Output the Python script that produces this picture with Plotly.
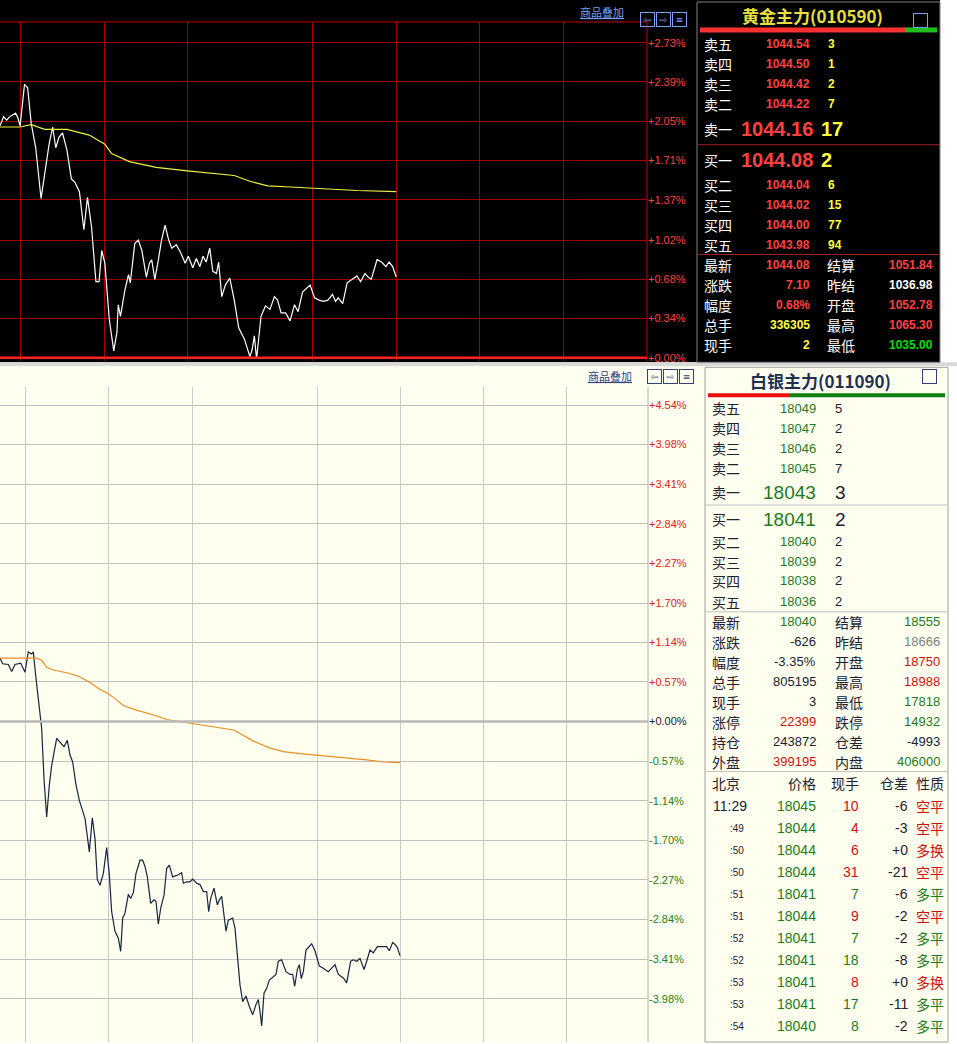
import plotly.graph_objs as go

W, H = 957, 1044

# ---- gold (top) : minute slot, percent vs prev settle ----
gold_t = [0, 8, 15, 22, 35, 40, 45, 55, 62, 70, 80, 92, 100, 110, 118, 125, 132, 140, 150, 160,
          168, 178, 188, 196, 205, 215, 222, 228, 235, 245, 255, 262, 265, 270, 280, 288, 292, 302,
          310, 318, 328, 335, 340, 347, 355, 362, 370, 378, 385, 395, 405, 415, 422, 432, 440, 448,
          455, 462, 470, 477, 485, 490, 497, 505, 515, 525, 535, 548, 560, 565, 570, 575, 585, 595,
          605, 615, 622, 630, 640, 650, 660, 668, 678, 695, 705, 715, 725, 735, 745, 752, 758, 768,
          778, 790, 800, 808, 818, 825, 832, 845, 855, 865, 872, 880, 888]
gold_pct = [2.01, 2.09, 2.06, 2.09, 2.12, 2.08, 2.01, 2.37, 2.34, 2.03, 1.82, 1.38, 1.59, 1.85, 2.00,
            1.82, 1.91, 1.95, 1.80, 1.55, 1.52, 1.44, 1.11, 1.39, 1.14, 0.66, 0.66, 0.93, 0.82, 0.33,
            0.06, 0.22, 0.46, 0.36, 0.59, 0.72, 0.65, 0.99, 1.02, 0.93, 0.70, 0.82, 0.85, 0.68, 0.85,
            1.02, 1.15, 1.02, 0.95, 0.98, 0.91, 0.82, 0.88, 0.78, 0.86, 0.79, 0.88, 0.83, 0.95, 0.75,
            0.73, 0.83, 0.53, 0.63, 0.69, 0.50, 0.26, 0.16, 0.01, 0.07, 0.19, -0.01, 0.36, 0.45, 0.42,
            0.53, 0.50, 0.39, 0.39, 0.32, 0.46, 0.40, 0.57, 0.63, 0.52, 0.50, 0.49, 0.50, 0.55, 0.49,
            0.52, 0.47, 0.65, 0.68, 0.71, 0.66, 0.73, 0.70, 0.68, 0.85, 0.83, 0.79, 0.83, 0.79, 0.70]
gold_avg_t = [0, 45, 70, 100, 150, 200, 235, 250, 290, 350, 420, 500, 525, 560, 600, 650, 700, 750, 800, 888]
gold_avg = [2.00, 2.00, 2.02, 1.98, 1.98, 1.93, 1.85, 1.77, 1.70, 1.65, 1.62, 1.59, 1.58, 1.53, 1.49,
            1.48, 1.47, 1.46, 1.45, 1.44]
gold_ticks = [2.73, 2.39, 2.05, 1.71, 1.37, 1.02, 0.68, 0.34, 0.00]
gold_grid_t = [47, 234, 420, 700, 888, 1075, 1262]

# ---- silver (bottom) ----
silver_t = [0, 8, 25, 35, 45, 62, 75, 85, 95, 100, 108, 118, 125, 132, 140, 148, 155, 170, 180, 192,
            202, 210, 218, 228, 238, 248, 255, 268, 277, 285, 292, 300, 310, 320, 328, 335, 345, 355,
            362, 368, 375, 385, 392, 400, 408, 420, 428, 435, 442, 452, 462, 468, 475, 482, 492, 500,
            508, 518, 535, 545, 550, 560, 570, 578, 590, 600, 610, 620, 626, 632, 642, 652, 658, 665,
            672, 678, 685, 698, 705, 712, 720, 728, 738, 748, 758, 768, 775, 780, 785, 792, 800, 808,
            818, 828, 835, 845, 858, 870, 878, 884, 892, 898, 904, 910, 918, 935, 945, 958, 970, 985,
            995, 1005, 1015, 1030, 1040, 1052, 1060, 1070, 1080, 1092, 1100, 1110, 1120, 1132, 1145,
            1160, 1168, 1178, 1185, 1192, 1200]
silver_pct = [0.91, 0.83, 0.82, 0.72, 0.82, 0.84, 0.71, 1.00, 0.97, 1.00, 0.62, 0.23, -0.10, -0.82,
              -1.37, -0.91, -0.63, -0.24, -0.29, -0.36, -0.27, -0.48, -0.58, -0.91, -1.13, -1.29,
              -1.39, -1.87, -1.38, -1.68, -2.27, -2.35, -2.18, -1.81, -2.20, -2.73, -3.01, -3.11,
              -3.30, -2.82, -2.75, -2.48, -2.54, -2.46, -2.18, -1.99, -1.99, -2.08, -2.23, -2.61,
              -2.56, -2.58, -2.91, -2.68, -2.49, -2.11, -2.06, -2.23, -2.20, -2.17, -2.32, -2.30,
              -2.30, -2.26, -2.32, -2.34, -2.44, -2.44, -2.73, -2.54, -2.39, -2.63, -2.56, -2.51,
              -2.80, -3.01, -2.85, -2.82, -2.97, -3.40, -3.78, -4.02, -3.94, -4.09, -4.21, -4.06,
              -3.99, -4.16, -4.37, -3.90, -3.83, -3.71, -3.67, -3.63, -3.44, -3.42, -3.59, -3.63,
              -3.63, -3.80, -3.56, -3.49, -3.69, -3.59, -3.28, -3.19, -3.29, -3.51, -3.54, -3.59,
              -3.54, -3.49, -3.63, -3.68, -3.75, -3.44, -3.42, -3.44, -3.40, -3.56, -3.44, -3.28,
              -3.32, -3.23, -3.23, -3.23, -3.29, -3.17, -3.20, -3.24, -3.36]
silver_avg_t = [0, 110, 125, 140, 160, 210, 240, 270, 300, 325, 345, 370, 400, 430, 470, 500, 540, 580,
                640, 700, 720, 760, 810, 850, 900, 950, 1000, 1050, 1100, 1150, 1200]
silver_avg = [0.91, 0.91, 0.88, 0.78, 0.74, 0.69, 0.64, 0.56, 0.46, 0.40, 0.33, 0.23, 0.18, 0.14, 0.08,
              0.03, 0.00, -0.03, -0.08, -0.12, -0.17, -0.28, -0.38, -0.43, -0.46, -0.48, -0.51, -0.53,
              -0.55, -0.58, -0.59]
silver_ticks = [4.54, 3.98, 3.41, 2.84, 2.27, 1.70, 1.14, 0.57, 0.00, -0.57, -1.14, -1.70, -2.27,
                -2.84, -3.41, -3.98]
silver_grid_t = [77, 325, 578, 953, 1200, 1450, 1700]

# ---- quote panels ----
gold_sell = [("卖五", "1044.54", "3"), ("卖四", "1044.50", "1"), ("卖三", "1044.42", "2"), ("卖二", "1044.22", "7")]
gold_buy = [("买二", "1044.04", "6"), ("买三", "1044.02", "15"), ("买四", "1044.00", "77"), ("买五", "1043.98", "94")]
gold_stats = [("最新", "1044.08", "结算", "1051.84"), ("涨跌", "7.10", "昨结", "1036.98"),
              ("幅度", "0.68%", "开盘", "1052.78"), ("总手", "336305", "最高", "1065.30"),
              ("现手", "2", "最低", "1035.00")]
gold_stat_colors = [("#ff4040", "#ff4040"), ("#ff4040", "#ffffff"), ("#ff4040", "#ff4040"),
                    ("#ffff40", "#ff4040"), ("#ffff40", "#00e000")]

silver_sell = [("卖五", "18049", "5"), ("卖四", "18047", "2"), ("卖三", "18046", "2"), ("卖二", "18045", "7")]
silver_buy = [("买二", "18040", "2"), ("买三", "18039", "2"), ("买四", "18038", "2"), ("买五", "18036", "2")]
silver_stats = [("最新", "18040", "结算", "18555"), ("涨跌", "-626", "昨结", "18666"),
                ("幅度", "-3.35%", "开盘", "18750"), ("总手", "805195", "最高", "18988"),
                ("现手", "3", "最低", "17818"), ("涨停", "22399", "跌停", "14932"),
                ("持仓", "243872", "仓差", "-4993"), ("外盘", "399195", "内盘", "406000")]
G, R, D, GR = "#1e7a1e", "#d01010", "#202030", "#808080"
silver_stat_colors = [(G, G), (D, GR), (D, R), (D, R), (D, G), (R, G), (D, D), (R, G)]

ticks_time = ["11:29", ":49", ":50", ":50", ":51", ":51", ":52", ":52", ":53", ":53", ":54"]
ticks_price = ["18045", "18044", "18044", "18044", "18041", "18044", "18041", "18041", "18041", "18041", "18040"]
ticks_vol = [10, 4, 6, 31, 7, 9, 7, 18, 8, 17, 8]
ticks_oi = ["-6", "-3", "+0", "-21", "-6", "-2", "-2", "-8", "+0", "-11", "-2"]
ticks_kind = ["空平", "空平", "多换", "空平", "多平", "空平", "多平", "多平", "多换", "多平", "多平"]

CJK = "Noto Sans CJK SC"
NUM = "Liberation Sans"

def px(x):
    return x / W

def py(y):
    return 1 - y / H

ann = []

def txt(x, y, s, color, size=13, anchor="left", family=CJK, bold=False):
    if bold:
        s = "<b>%s</b>" % s
    ann.append(dict(x=px(x), y=py(y), xref="paper", yref="paper", text=s, showarrow=False,
                    xanchor=anchor, yanchor="middle", font=dict(color=color, size=size, family=family)))

def icon(x, y, s, color):
    ann.append(dict(x=px(x), y=py(y), xref="paper", yref="paper", text=s, showarrow=False,
                    font=dict(color=color, size=9, family="DejaVu Sans"), bordercolor=color,
                    borderwidth=1, borderpad=0, width=13, height=13))

shapes = []

def rect(x0, y0, x1, y1, fill=None, line=None, width=1):
    shapes.append(dict(type="rect", xref="paper", yref="paper", x0=px(x0), x1=px(x1), y0=py(y1), y1=py(y0),
                       fillcolor=fill or "rgba(0,0,0,0)", line=dict(color=line or "rgba(0,0,0,0)", width=width),
                       layer="below"))

def hline(x0, x1, y, color, width=1):
    shapes.append(dict(type="line", xref="paper", yref="paper", x0=px(x0), x1=px(x1), y0=py(y), y1=py(y),
                       line=dict(color=color, width=width), layer="below"))

def vline(x, y0, y1, color, width=1):
    shapes.append(dict(type="line", xref="paper", yref="paper", x0=px(x), x1=px(x), y0=py(y1), y1=py(y0),
                       line=dict(color=color, width=width), layer="below"))

# backgrounds
rect(0, 0, 940, 363, fill="#000000")
rect(0, 363, 957, 367, fill="#d8d8d8")
rect(0, 367, 957, 1044, fill="#fffff0")
rect(948, 367, 957, 1044, fill="#ffffff")
rect(697, 2, 940, 363, line="#808080")
rect(705, 368, 948, 1044, line="#a0a0a0")
hline(0, 647, 22, "#c00000")
vline(647, 22, 362, "#c00000")
vline(648, 388, 1044, "#b0b0b0")

# header strips
txt(578, 12, "<u>商品叠加</u>", "#70a0ff", 11)
txt(586, 377, "<u>商品叠加</u>", "#304080", 11)
for i, g in enumerate(["⇦", "⇨", "≡"]):
    icon(655 + i * 16, 12, g, "#80a0ff")
    icon(662 + i * 16, 377, g, "#304080")
icon(928, 13, " ", "#80a0ff")
icon(937, 377, " ", "#304080")

# ---- gold panel ----
txt(812, 16, "黄金主力(010590)", "#e8e040", 17, "center", bold=True)
hline(700, 905, 30, "#ff3030", 5)
hline(905, 937, 30, "#20c020", 5)
for y, (lab, p, q) in zip([44, 64, 84, 104], gold_sell):
    txt(702, y, lab, "#ffffff", 14)
    txt(812, y, p, "#ff4040", 12, "right", NUM, True)
    txt(826, y, q, "#ffff40", 12, "left", NUM, True)
txt(702, 129, "卖一", "#ffffff", 14)
txt(815, 129, "1044.16", "#ff4040", 20, "right", NUM, True)
txt(819, 129, "17", "#ffff40", 20, "left", NUM, True)
hline(697, 940, 145, "#a02020")
txt(702, 160, "买一", "#ffffff", 14)
txt(815, 160, "1044.08", "#ff4040", 20, "right", NUM, True)
txt(819, 160, "2", "#ffff40", 20, "left", NUM, True)
for y, (lab, p, q) in zip([185, 205, 225, 245], gold_buy):
    txt(702, y, lab, "#ffffff", 14)
    txt(812, y, p, "#ff4040", 12, "right", NUM, True)
    txt(826, y, q, "#ffff40", 12, "left", NUM, True)
hline(697, 940, 255, "#a02020")
for i, (l1, v1, l2, v2) in enumerate(gold_stats):
    y = 266 + i * 20
    c1, c2 = gold_stat_colors[i]
    txt(702, y, l1, "#ffffff", 14)
    txt(812, y, v1, c1, 12, "right", NUM, True)
    txt(825, y, l2, "#ffffff", 14)
    txt(935, y, v2, c2, 12, "right", NUM, True)

# ---- silver panel ----
txt(820, 381, "白银主力(011090)", "#203050", 17, "center", bold=True)
hline(708, 790, 396, "#ee1010", 4)
hline(790, 945, 396, "#108010", 4)
for y, (lab, p, q) in zip([409, 429, 449, 469], silver_sell):
    txt(710, y, lab, D, 14)
    txt(818, y, p, G, 13, "right", NUM)
    txt(833, y, q, D, 13, "left", NUM)
txt(710, 493, "卖一", D, 14)
txt(818, 493, "18043", G, 19, "right", NUM)
txt(833, 493, "3", D, 19, "left", NUM)
hline(705, 948, 506, "#c0c0c0")
txt(710, 520, "买一", D, 14)
txt(818, 520, "18041", G, 19, "right", NUM)
txt(833, 520, "2", D, 19, "left", NUM)
for y, (lab, p, q) in zip([543, 563, 582, 603], silver_buy):
    txt(710, y, lab, D, 14)
    txt(818, y, p, G, 13, "right", NUM)
    txt(833, y, q, D, 13, "left", NUM)
hline(705, 948, 613, "#c0c0c0")
for i, (l1, v1, l2, v2) in enumerate(silver_stats):
    y = 623 + i * 20
    c1, c2 = silver_stat_colors[i]
    txt(710, y, l1, D, 14)
    txt(818, y, v1, c1, 13, "right", NUM)
    txt(833, y, l2, D, 14)
    txt(942, y, v2, c2, 13, "right", NUM)
hline(705, 948, 773, "#c0c0c0")
y = 785
txt(710, y, "北京", D, 14)
txt(818, y, "价格", D, 14, "right")
txt(861, y, "现手", D, 14, "right")
txt(910, y, "仓差", D, 14, "right")
txt(914, y, "性质", D, 14)
for i in range(len(ticks_time)):
    y = 808 + i * 22
    if i == 0:
        txt(711, y, ticks_time[i], D, 14, "left", NUM)
    else:
        txt(728, y, ticks_time[i], D, 10, "left", NUM)
    up = ticks_kind[i] in ("空平", "多换")
    txt(818, y, ticks_price[i], G, 14, "right", NUM)
    txt(861, y, str(ticks_vol[i]), R if up else G, 14, "right", NUM)
    txt(910, y, ticks_oi[i], D, 14, "right", NUM)
    txt(914, y, ticks_kind[i], R if up else G, 14)

# ---- traces ----
fig = go.Figure()
fig.add_trace(go.Scatter(x=gold_t, y=gold_pct, mode="lines", line=dict(color="#ffffff", width=1.2),
                         xaxis="x", yaxis="y"))
fig.add_trace(go.Scatter(x=gold_avg_t, y=gold_avg, mode="lines", line=dict(color="#f0f040", width=1.2),
                         xaxis="x", yaxis="y"))
fig.add_trace(go.Scatter(x=silver_t, y=silver_pct, mode="lines", line=dict(color="#15253f", width=1.2),
                         xaxis="x2", yaxis="y2"))
fig.add_trace(go.Scatter(x=silver_avg_t, y=silver_avg, mode="lines", line=dict(color="#f08c20", width=1.2),
                         xaxis="x2", yaxis="y2"))
# zero lines
fig.add_trace(go.Scatter(x=[0, 1450], y=[0, 0], mode="lines", line=dict(color="#ff2020", width=2.5),
                         xaxis="x", yaxis="y"))
fig.add_trace(go.Scatter(x=[0, 1944], y=[0, 0], mode="lines", line=dict(color="#b8b8b8", width=2.5),
                         xaxis="x2", yaxis="y2"))

def span_color(v):
    c = "#e02020" if v > 0 else ("#208020" if v < 0 else "#202030")
    s = ("+%.2f%%" % v) if v >= 0 else ("%.2f%%" % v)
    return "<span style='color:%s'>%s</span>" % (c, s)

fig.update_layout(
    width=W, height=H, margin=dict(l=0, r=0, t=0, b=0), showlegend=False,
    paper_bgcolor="#ffffff", plot_bgcolor="rgba(0,0,0,0)",
    xaxis=dict(domain=[0, px(647)], range=[0, 1450], tickvals=gold_grid_t, showticklabels=False,
               showgrid=True, gridcolor="#a00000", zeroline=False, anchor="y"),
    yaxis=dict(domain=[py(362), py(22)], range=[-0.03, 2.91], tickvals=gold_ticks,
               ticktext=["+%.2f%%" % v for v in gold_ticks], side="right", anchor="x",
               tickfont=dict(color="#ff4040", size=11, family=NUM), showgrid=True,
               gridcolor="#a00000", zeroline=False, ticks=""),
    xaxis2=dict(domain=[0, px(648)], range=[0, 1944], tickvals=silver_grid_t, showticklabels=False,
                showgrid=True, gridcolor="#c8c8c8", zeroline=False, anchor="y2"),
    yaxis2=dict(domain=[0, py(388)], range=[-4.60, 4.80], tickvals=silver_ticks,
                ticktext=[span_color(v) for v in silver_ticks], side="right", anchor="x2",
                tickfont=dict(size=11, family=NUM), showgrid=True, gridcolor="#c0c0c0",
                zeroline=False, ticks=""),
    shapes=shapes, annotations=ann,
)

fig.write_html("out.html", config={"displayModeBar": False},
               post_script="document.body.style.margin='0px';document.body.style.overflow='hidden';")
